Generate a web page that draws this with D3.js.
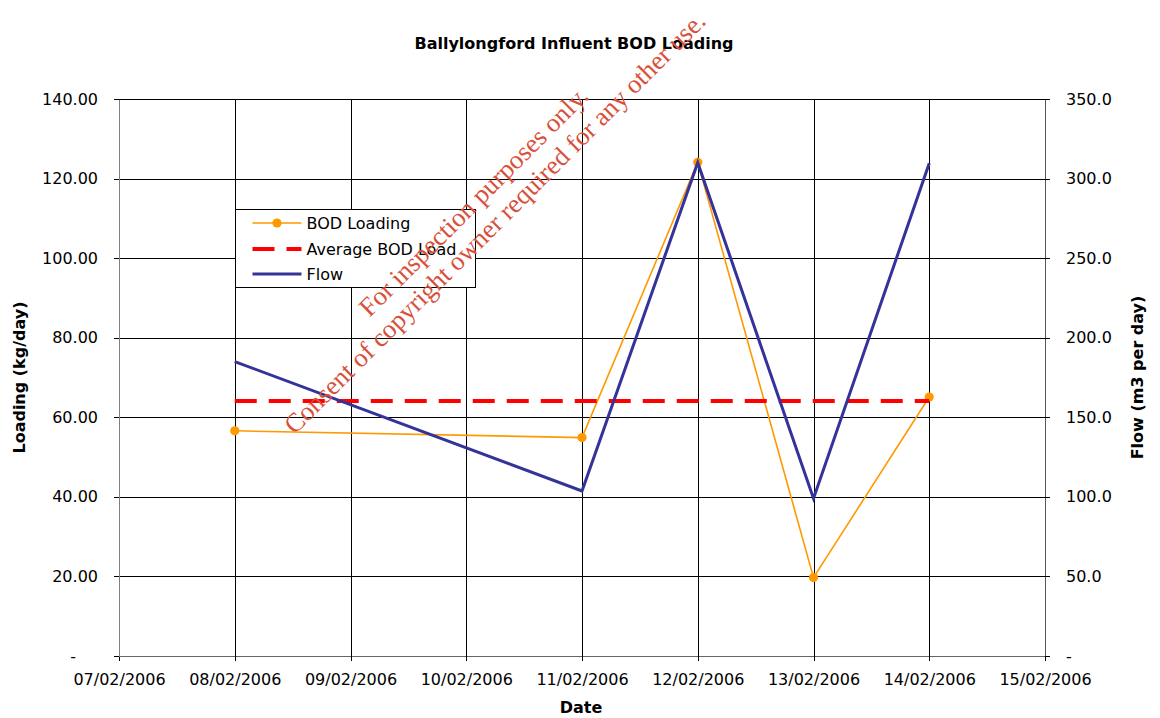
<!DOCTYPE html>
<html>
<head>
<meta charset="utf-8">
<script src="https://cdn.jsdelivr.net/npm/d3@7"></script>
<style>
  body { margin: 0; background: #fff; }
  svg text { font-family: "DejaVu Sans", Verdana, sans-serif; fill: #000; }
</style>
</head>
<body>
<svg id="chart" width="1160" height="718"></svg>
<script>
// Sample dates and measured values
const sampleDates = ["2006-02-08", "2006-02-11", "2006-02-12", "2006-02-13", "2006-02-14"];
const bodLoading = [56.6, 54.9, 124.1, 19.7, 65.1];   // kg/day
const flowValues = [185.0, 103.7, 310.0, 99.0, 309.6]; // m3 per day

// Axis ticks
const dateTicks = ["2006-02-07", "2006-02-08", "2006-02-09", "2006-02-10", "2006-02-11",
                   "2006-02-12", "2006-02-13", "2006-02-14", "2006-02-15"];
const loadingTicks = [0, 20, 40, 60, 80, 100, 120, 140];
const flowTicks = [0, 50, 100, 150, 200, 250, 300, 350];

const titleText = "Ballylongford Influent BOD Loading";
const legendLabels = ["BOD Loading", "Average BOD Load", "Flow"];

const parse = d3.utcParse("%Y-%m-%d");
const fmtDate = d3.utcFormat("%d/%m/%Y");

const svg = d3.select("#chart");
const plot = { left: 119, right: 1045, top: 99, bottom: 656 };

const x = d3.scaleUtc()
  .domain([parse(dateTicks[0]), parse(dateTicks[dateTicks.length - 1])])
  .range([plot.left, plot.right]);
const yLoad = d3.scaleLinear().domain([0, 140]).range([plot.bottom, plot.top]);
const yFlow = d3.scaleLinear().domain([0, 350]).range([plot.bottom, plot.top]);

const bodData = sampleDates.map((d, i) => ({ date: parse(d), value: bodLoading[i] }));
const flowData = sampleDates.map((d, i) => ({ date: parse(d), value: flowValues[i] }));
const averageBod = d3.mean(bodLoading);

// Gridlines
const grid = svg.append("g").attr("shape-rendering", "crispEdges");
grid.selectAll("line.h").data(loadingTicks).join("line")
  .attr("x1", plot.left).attr("x2", plot.right)
  .attr("y1", d => Math.round(yLoad(d)) + 0.5).attr("y2", d => Math.round(yLoad(d)) + 0.5)
  .attr("stroke", "#000").attr("stroke-width", 1);
grid.selectAll("line.v").data(dateTicks).join("line")
  .attr("x1", d => Math.round(x(parse(d))) + 0.5).attr("x2", d => Math.round(x(parse(d))) + 0.5)
  .attr("y1", plot.top).attr("y2", plot.bottom)
  .attr("stroke", "#000").attr("stroke-width", 1);

// Axes
function styleAxis(g, lineColor) {
  g.attr("shape-rendering", "crispEdges");
  g.select(".domain").attr("stroke", lineColor).attr("stroke-width", 1.5);
  g.selectAll(".tick line").attr("stroke", "#000");
  g.selectAll(".tick text").attr("font-size", 16).attr("fill", "#000")
    .style("font-family", "'DejaVu Sans', Verdana, sans-serif");
}

const xAxis = svg.append("g")
  .attr("transform", `translate(0,${plot.bottom})`)
  .call(d3.axisBottom(x)
    .tickValues(dateTicks.map(parse))
    .tickFormat(fmtDate)
    .tickSizeInner(5).tickSizeOuter(0).tickPadding(13));
styleAxis(xAxis, "#666");

const leftAxis = svg.append("g")
  .attr("transform", `translate(${plot.left},0)`)
  .call(d3.axisLeft(yLoad)
    .tickValues(loadingTicks)
    .tickFormat(d => d === 0 ? "-" : d.toFixed(2))
    .tickSizeInner(5).tickSizeOuter(0).tickPadding(16));
styleAxis(leftAxis, "#808080");
leftAxis.selectAll(".tick text").filter(d => d === 0).attr("dx", -22);

const rightAxis = svg.append("g")
  .attr("transform", `translate(${plot.right},0)`)
  .call(d3.axisRight(yFlow)
    .tickValues(flowTicks)
    .tickFormat(d => d === 0 ? "-" : d.toFixed(1))
    .tickSizeInner(5).tickSizeOuter(0).tickPadding(16));
styleAxis(rightAxis, "#555");

// Series
const bodLine = d3.line().x(d => x(d.date)).y(d => yLoad(d.value));
const flowLine = d3.line().x(d => x(d.date)).y(d => yFlow(d.value));

svg.append("path").datum(bodData)
  .attr("d", bodLine).attr("fill", "none")
  .attr("stroke", "#FF9900").attr("stroke-width", 1.6);
svg.append("g").selectAll("circle").data(bodData).join("circle")
  .attr("cx", d => x(d.date)).attr("cy", d => yLoad(d.value))
  .attr("r", 4.6).attr("fill", "#FF9900");

svg.append("line")
  .attr("x1", x(bodData[0].date)).attr("x2", x(bodData[bodData.length - 1].date))
  .attr("y1", yLoad(averageBod)).attr("y2", yLoad(averageBod))
  .attr("stroke", "#FF0000").attr("stroke-width", 4)
  .attr("stroke-dasharray", "22,12");

svg.append("path").datum(flowData)
  .attr("d", flowLine).attr("fill", "none")
  .attr("stroke", "#333399").attr("stroke-width", 3)
  .attr("stroke-linejoin", "miter");

// Titles
svg.append("text").attr("x", 574).attr("y", 49)
  .attr("text-anchor", "middle").attr("font-size", 16).attr("font-weight", "bold")
  .text(titleText);
svg.append("text").attr("x", 581).attr("y", 713)
  .attr("text-anchor", "middle").attr("font-size", 16).attr("font-weight", "bold")
  .text("Date");
svg.append("text")
  .attr("transform", `translate(25,${(plot.top + plot.bottom) / 2}) rotate(-90)`)
  .attr("text-anchor", "middle").attr("font-size", 16).attr("font-weight", "bold")
  .text("Loading (kg/day)");
svg.append("text")
  .attr("transform", `translate(1143,${(plot.top + plot.bottom) / 2}) rotate(-90)`)
  .attr("text-anchor", "middle").attr("font-size", 16).attr("font-weight", "bold")
  .text("Flow (m3 per day)");

// Legend
const legend = svg.append("g").attr("transform", "translate(235.5,209.5)");
legend.append("rect").attr("width", 240).attr("height", 78)
  .attr("fill", "#fff").attr("stroke", "#000").attr("stroke-width", 1)
  .attr("shape-rendering", "crispEdges");
const rows = [13.5, 39.5, 64.5];
legend.append("line").attr("x1", 17).attr("x2", 66).attr("y1", rows[0]).attr("y2", rows[0])
  .attr("stroke", "#FF9900").attr("stroke-width", 1.6);
legend.append("circle").attr("cx", 41.5).attr("cy", rows[0]).attr("r", 4.6).attr("fill", "#FF9900");
legend.append("line").attr("x1", 17).attr("x2", 66).attr("y1", rows[1]).attr("y2", rows[1])
  .attr("stroke", "#FF0000").attr("stroke-width", 4).attr("stroke-dasharray", "22,12");
legend.append("line").attr("x1", 17).attr("x2", 66).attr("y1", rows[2]).attr("y2", rows[2])
  .attr("stroke", "#333399").attr("stroke-width", 3);
legend.selectAll("text").data(legendLabels).join("text")
  .attr("x", 71).attr("y", (d, i) => rows[i]).attr("dy", "0.36em")
  .attr("font-size", 16).text(d => d);

// Watermark
const mark = svg.append("g").attr("transform", "translate(484,212) rotate(-45)");
mark.selectAll("text")
  .data(["For inspection purposes only.", "Consent of copyright owner required for any other use."])
  .join("text")
  .attr("x", 0).attr("y", (d, i) => i === 0 ? -6 : 24)
  .attr("text-anchor", "middle")
  .style("font-family", "'Liberation Serif', 'Times New Roman', serif")
  .attr("font-size", 26.5)
  .style("fill", "#d9503a")
  .text(d => d);
</script>
</body>
</html>
